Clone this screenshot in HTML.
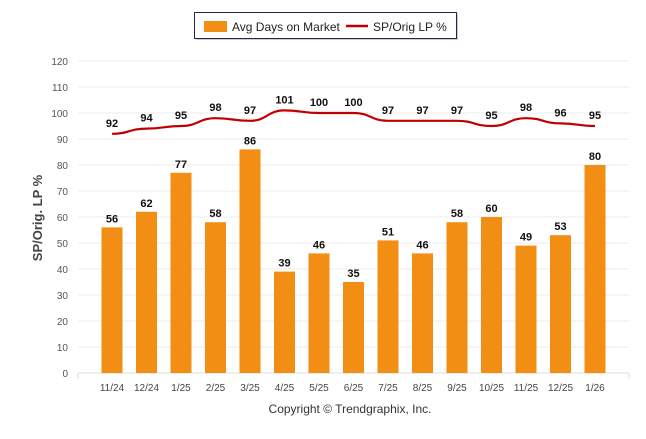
<!DOCTYPE html>
<html><head><meta charset="utf-8"><style>
body{margin:0;background:#fff;font-family:"Liberation Sans",sans-serif}
</style></head><body>
<svg width="646" height="434" xmlns="http://www.w3.org/2000/svg" font-family="Liberation Sans, sans-serif">
<g>
<rect x="196" y="14" width="262" height="26" fill="#999" opacity="0.5"/>
<rect x="194.5" y="12.5" width="262" height="26" fill="#fff" stroke="#1f2a4a" stroke-width="1"/>
<rect x="204" y="21" width="23" height="11" fill="#f28e13"/>
<text x="232" y="31" font-size="12" fill="#222">Avg Days on Market</text>
<line x1="346" y1="26" x2="368" y2="26" stroke="#c00000" stroke-width="2.5"/>
<text x="373" y="31" font-size="12" fill="#222">SP/Orig LP %</text>
</g>
<g id="grid"></g>
<g id="bars"></g>
<g id="line"></g>
<g id="labels"></g>
<text transform="translate(42,218) rotate(-90)" text-anchor="middle" font-size="13" font-weight="bold" fill="#444">SP/Orig. LP %</text>
<text x="350" y="413" text-anchor="middle" font-size="12" fill="#333">Copyright © Trendgraphix, Inc.</text>
</svg>
<script>
const categories=["11/24","12/24","1/25","2/25","3/25","4/25","5/25","6/25","7/25","8/25","9/25","10/25","11/25","12/25","1/26"];
const daysOnMarket=[56,62,77,58,86,39,46,35,51,46,58,60,49,53,80];
const spOrigLp=[92,94,95,98,97,101,100,100,97,97,97,95,98,96,95];
const yTicks=[0,10,20,30,40,50,60,70,80,90,100,110,120];
const NS="http://www.w3.org/2000/svg";
const y=v=>373-v*(312/120);
const x=i=>112+i*34.5;
function mk(t,a,p){const e=document.createElementNS(NS,t);for(const k in a)e.setAttribute(k,a[k]);document.getElementById(p).appendChild(e);return e;}
yTicks.forEach(v=>{
 const l=mk('line',{x1:78,x2:629,y1:y(v),y2:y(v),stroke:v===0?'#ddd':'#ececec','stroke-width':1},'grid');
 
 
 const t=mk('text',{x:68,y:y(v)+4,'text-anchor':'end','font-size':10,fill:'#555'},'grid');t.textContent=v;
 
 
});
[78,629].forEach(px=>{const l=mk('line',{x1:px,x2:px,y1:373,y2:379,stroke:'#ddd'},'grid');
 
 });
categories.forEach((c,i)=>{
 const t=mk('text',{x:x(i),y:391,'text-anchor':'middle','font-size':10,fill:'#444'},'grid');t.textContent=c;
 
 
});
daysOnMarket.forEach((v,i)=>{
 const r=mk('rect',{x:x(i)-10.5,y:y(v),width:21,height:373-y(v),fill:'#f28e13'},'bars');
 
 
 const t=mk('text',{x:x(i),y:y(v)-5,'text-anchor':'middle','font-size':11,'font-weight':'bold',fill:'#111'},'labels');t.textContent=v;
 
 
});
let d='';
for(let i=0;i<spOrigLp.length;i++){
 const px=x(i),py=y(spOrigLp[i]);
 if(i===0){d+='M'+px+' '+py;}else{const qx=x(i-1),qy=y(spOrigLp[i-1]);const m=(px-qx)/2;d+=` C${qx+m} ${qy} ${px-m} ${py} ${px} ${py}`;}
 const t=mk('text',{x:px,y:py-7,'text-anchor':'middle','font-size':11,'font-weight':'bold',fill:'#111'},'labels');t.textContent=spOrigLp[i];
 
 
}
const p=mk('path',{d:d,fill:'none',stroke:'#c00000','stroke-width':2.2},'line');


</script>
</body></html>
